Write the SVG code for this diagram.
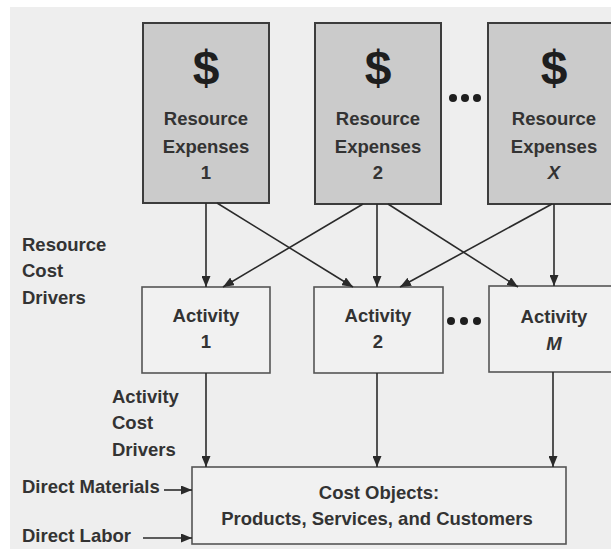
<svg xmlns="http://www.w3.org/2000/svg" width="611" height="549" viewBox="0 0 611 549">
<defs>
<style>
.t{font-family:"Liberation Sans",Arial,sans-serif;font-weight:bold;font-size:18.5px;fill:#333333}
.c{text-anchor:middle}
.d{font-family:"Liberation Sans",Arial,sans-serif;font-weight:bold;font-size:48px;fill:#1e1e1e;text-anchor:middle}
.res{fill:#cbcbcb;stroke:#3c3c3c;stroke-width:2}
.act{fill:#f1f1f1;stroke:#555;stroke-width:1.6}
.ln{stroke:#2a2a2a;stroke-width:1.6;fill:none;marker-end:url(#ah)}
.dot{fill:#1e1e1e}
</style>
<marker id="ah" markerUnits="userSpaceOnUse" markerWidth="11" markerHeight="9" refX="11" refY="4.5" orient="auto">
<path d="M0,0 L11,4.5 L0,9 z" fill="#2a2a2a"/>
</marker>
</defs>
<rect x="0" y="0" width="611" height="549" fill="#ffffff"/>
<rect x="10" y="7" width="601" height="542" fill="#eeeeee"/>

<g id="res1">
<rect class="res" x="143" y="23" width="126" height="180"/>
<text class="d" x="206" y="84">$</text>
<text class="t c" x="206" y="125">Resource</text>
<text class="t c" x="206" y="153">Expenses</text>
<text class="t c" x="206" y="179">1</text>
</g>
<g id="res2">
<rect class="res" x="315" y="23" width="126" height="181"/>
<text class="d" x="378" y="84">$</text>
<text class="t c" x="378" y="125">Resource</text>
<text class="t c" x="378" y="153">Expenses</text>
<text class="t c" x="378" y="179">2</text>
</g>
<g id="resX">
<rect class="res" x="488" y="23" width="133" height="181"/>
<text class="d" x="554" y="84">$</text>
<text class="t c" x="554" y="125">Resource</text>
<text class="t c" x="554" y="153">Expenses</text>
<text class="t c" x="554" y="179" font-style="italic">X</text>
</g>
<g id="dots-res">
<circle class="dot" cx="453" cy="98" r="4"/>
<circle class="dot" cx="465" cy="98" r="4"/>
<circle class="dot" cx="477" cy="98" r="4"/>
</g>

<g id="label-rcd">
<text class="t" x="22" y="251">Resource</text>
<text class="t" x="22" y="277">Cost</text>
<text class="t" x="22" y="304">Drivers</text>
</g>

<g id="act1">
<rect class="act" x="142" y="287" width="128" height="86"/>
<text class="t c" x="206" y="322">Activity</text>
<text class="t c" x="206" y="348">1</text>
</g>
<g id="act2">
<rect class="act" x="314" y="287" width="129" height="86"/>
<text class="t c" x="378" y="322">Activity</text>
<text class="t c" x="378" y="348">2</text>
</g>
<g id="actM">
<rect class="act" x="489" y="286" width="132" height="86"/>
<text class="t c" x="554" y="323">Activity</text>
<text class="t c" x="554" y="350" font-style="italic">M</text>
</g>
<g id="dots-act">
<circle class="dot" cx="451" cy="321" r="4"/>
<circle class="dot" cx="464" cy="321" r="4"/>
<circle class="dot" cx="477" cy="321" r="4"/>
</g>

<g id="label-acd">
<text class="t" x="112" y="403">Activity</text>
<text class="t" x="112" y="429">Cost</text>
<text class="t" x="112" y="456">Drivers</text>
</g>

<g id="cost">
<rect class="act" x="192" y="467" width="374" height="77"/>
<text class="t c" x="379" y="499">Cost Objects:</text>
<text class="t c" x="377" y="525">Products, Services, and Customers</text>
</g>

<g id="label-inputs">
<text class="t" x="22" y="493">Direct Materials</text>
<text class="t" x="22" y="542">Direct Labor</text>
</g>

<g id="connectors">
<line class="ln" x1="206" y1="203" x2="206" y2="287"/>
<line class="ln" x1="217" y1="203" x2="353" y2="287"/>
<line class="ln" x1="363" y1="204" x2="223" y2="287"/>
<line class="ln" x1="377" y1="204" x2="377" y2="287"/>
<line class="ln" x1="388" y1="204" x2="518" y2="287"/>
<line class="ln" x1="552" y1="204" x2="400" y2="287"/>
<line class="ln" x1="554" y1="204" x2="554" y2="286"/>
<line class="ln" x1="206" y1="373" x2="206" y2="467"/>
<line class="ln" x1="377" y1="373" x2="377" y2="467"/>
<line class="ln" x1="553" y1="372" x2="553" y2="467"/>
<line class="ln" x1="164" y1="490" x2="192" y2="490"/>
<line class="ln" x1="143" y1="538" x2="192" y2="538"/>
</g>
</svg>
